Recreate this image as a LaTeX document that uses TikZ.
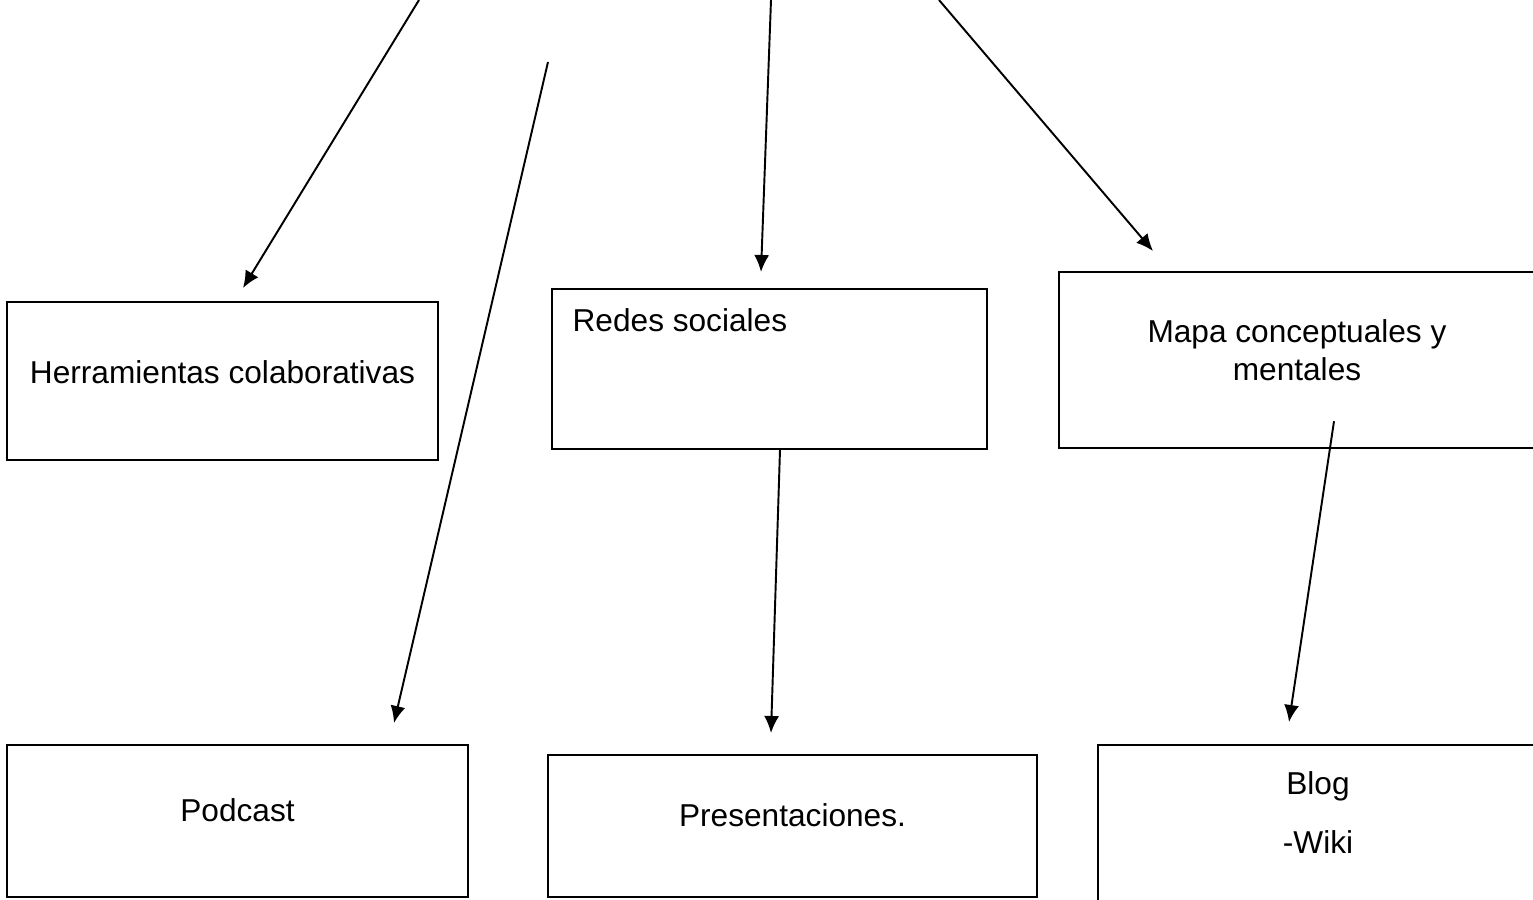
\documentclass[tikz,border=0pt]{standalone}
\usepackage{fontspec}
\setmainfont{Liberation Sans}
\usetikzlibrary{arrows.meta}
\tikzset{>={Latex[length=3.4mm,width=3mm]}}
\tikzset{caja/.style = {draw, line width=1.4pt, inner sep=0pt},%
		texto/.style = {inner sep=0pt, align=center, font=\fontsize{18}{21.6}\selectfont},%
		flecha/.style = {->, line width=1.1pt}}

\begin{document}
\begin{tikzpicture}
    \useasboundingbox (0,0) rectangle (30.66,-17.98);
    \clip (0,0) rectangle (30.66,-17.98);
    % cajas de arriba
    \node[caja,minimum width=8.62cm,minimum height=3.16cm] (herr) at (4.45,-7.62) {};
    \node[caja,line width=0.8pt,minimum width=8.7cm,minimum height=3.2cm] (redes) at (15.39,-7.38) {};
    \node[caja,minimum width=9.52cm,minimum height=3.52cm] (mapa) at (25.94,-7.2) {};
    \node[texto] (herrtxt) at ([yshift=0.18cm]herr.center) {Herramientas colaborativas};
    \node[texto,anchor=west] (redestxt) at ([xshift=0.42cm,yshift=-0.64cm]redes.north west) {Redes sociales};
    \node[texto] (mapatxt) at ([yshift=0.2cm]mapa.center) {Mapa conceptuales y\\mentales};
    % cajas de abajo
    \node[caja,minimum width=9.22cm,minimum height=3.04cm] (podcast) at (4.75,-16.42) {};
    \node[caja,minimum width=9.78cm,minimum height=2.84cm] (present) at (15.85,-16.52) {};
    \node[caja,minimum width=8.88cm,minimum height=3.2cm] (blog) at (26.4,-16.5) {};
    \node[texto] (podcasttxt) at ([yshift=0.22cm]podcast.center) {Podcast};
    \node[texto] (presenttxt) at ([yshift=0.22cm]present.center) {Presentaciones.};
    \node[texto] (blogtxt) at ([xshift=-0.04cm,yshift=0.24cm]blog.center) {Blog\\[12pt]-Wiki};
    % extremos libres
    \coordinate (a0) at (8.38,0);
    \coordinate (a1) at (4.86,-5.76);
    \coordinate (b0) at (10.96,-1.24);
    \coordinate (b1) at (7.88,-14.46);
    \coordinate (c0) at (15.42,0);
    \coordinate (c1) at (15.22,-5.44);
    \coordinate (d0) at (18.78,0);
    \coordinate (d1) at (23.06,-5.02);
    \coordinate (e1) at (15.42,-14.66);
    \coordinate (f1) at (25.78,-14.44);
    % flechas
    \draw[flecha] (a0) -- (a1);
    \draw[flecha] (b0) -- (b1);
    \draw[flecha] (c0) -- (c1);
    \draw[flecha] (d0) -- (d1);
    \draw[flecha] ([xshift=0.21cm]redes.south) -- (e1);
    \draw[flecha] ([shift={(0.74,0.56)}]mapa.south) -- (f1);
\end{tikzpicture}
\end{document}
